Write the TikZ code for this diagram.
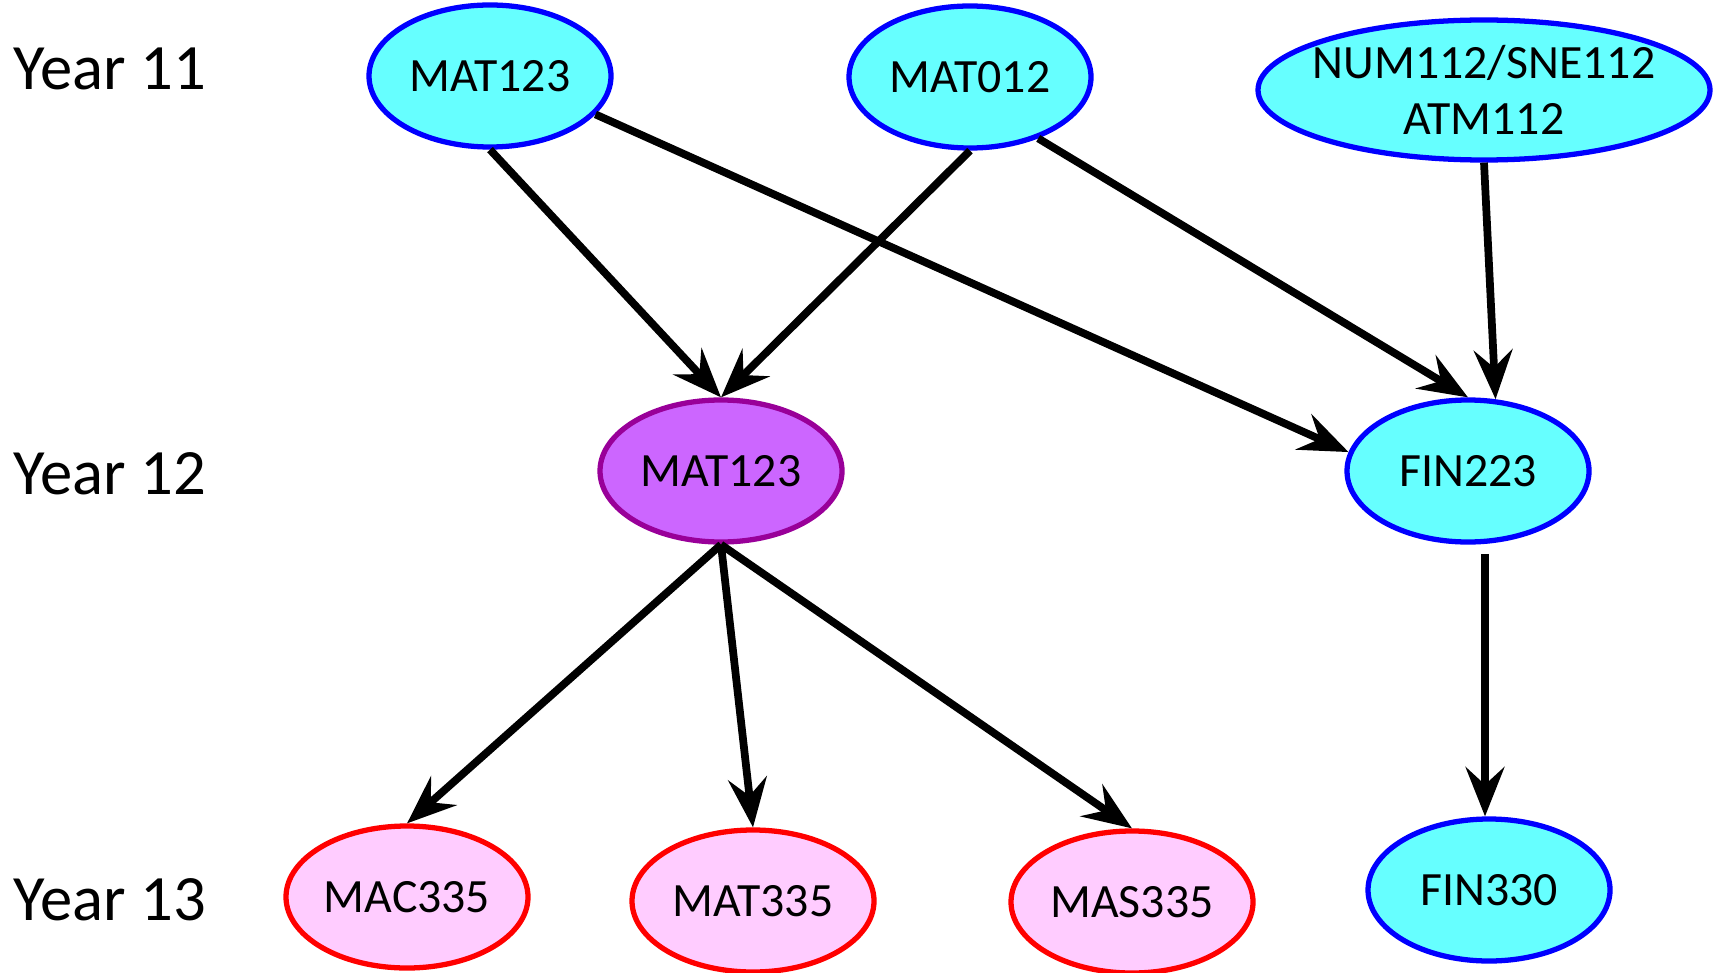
\documentclass[tikz,border=0pt]{standalone}
\usepackage{fontspec}
\setmainfont{Carlito}
\usetikzlibrary{shapes.geometric,arrows.meta}
\definecolor{lcyan}{RGB}{102,255,255}
\definecolor{corefill}{RGB}{204,102,255}
\definecolor{coreline}{RGB}{153,0,153}
\definecolor{optfill}{RGB}{255,204,255}

\begin{document}
\begin{tikzpicture}[
   course/.style={ellipse,draw=blue,fill=lcyan,line width=1.5pt,inner sep=0pt,
      minimum width=2.42cm,minimum height=1.42cm,align=center,
      font=\fontsize{13.6}{16}\selectfont},
   core/.style={course,draw=coreline,fill=corefill},
   option/.style={course,draw=red,fill=optfill},
   prereq/.style={-{Stealth[length=14pt,width=11pt,inset=5pt]},line width=2.2pt},
   yr/.style={anchor=west,inner sep=0pt,font=\fontsize{18.4}{20}\selectfont}]
   \useasboundingbox (0,0) rectangle (17.15,-9.73);
   \node[yr] (y11) at (0.13,-0.69) {Year 11};
   \node[yr] (y12) at (0.13,-4.74) {Year 12};
   \node[yr] (y13) at (0.13,-9.00) {Year 13};
   \node[course] (mat123a) at (4.90,-0.76) {MAT123};
   \node[course] (mat012) at (9.70,-0.77) {MAT012};
   \node[course,minimum width=4.52cm,minimum height=1.40cm,inner xsep=-4pt,inner ysep=-2pt]
      (num112) at (14.84,-0.90) {NUM112/SNE112\\ATM112};
   \node[core] (mat123b) at (7.21,-4.71) {MAT123};
   \node[course] (fin223) at (14.68,-4.71) {FIN223};
   \node[option] (mac335) at (4.07,-8.97) {MAC335};
   \node[option] (mat335) at (7.53,-9.01) {MAT335};
   \node[option] (mas335) at (11.32,-9.02) {MAS335};
   \node[course] (fin330) at (14.89,-8.90) {FIN330};
   \draw[prereq] (mat123a.south) -- (mat123b.north);
   \draw[prereq] (mat012.south) -- (mat123b.north);
   \draw[prereq] (mat123a.-20) -- (fin223.171);
   \draw[prereq] (mat012.-42) -- (fin223.north);
   \draw[prereq] (num112.south) -- (fin223.69);
   \draw[prereq] (mat123b.south) -- (mac335.north);
   \draw[prereq] (mat123b.south) -- (mat335.north);
   \draw[prereq] (mat123b.south) -- (mas335.north);
   \draw[prereq,shorten <=2.6pt] ([xshift=-0.4mm]fin330.north |- fin223.south) -- ([xshift=-0.4mm]fin330.north);
\end{tikzpicture}
\end{document}
